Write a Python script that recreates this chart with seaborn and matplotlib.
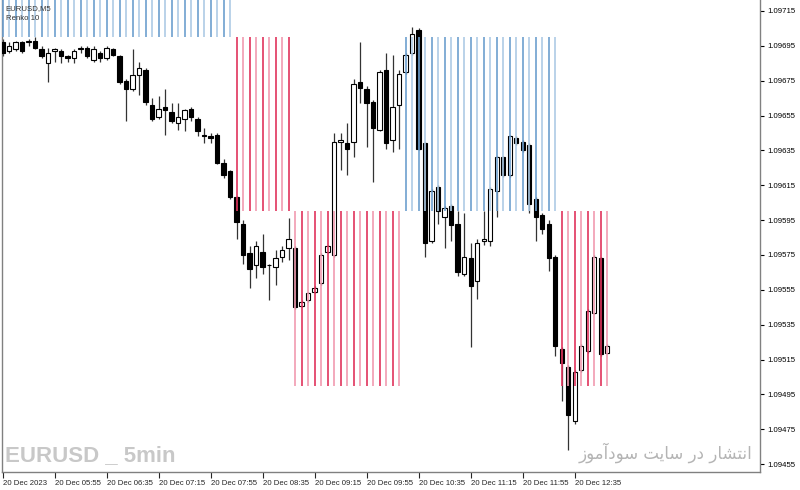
"""EURUSD M5 candles with Renko(10) box columns, MT4 style."""

import numpy as np
import pandas as pd
import matplotlib
matplotlib.use("Agg")
import matplotlib.pyplot as plt
import seaborn as sns

# 5-minute bars, 20 Dec 2023, 05:15 .. 13:00
opens = [
    1.09697, 1.09692, 1.09693, 1.09697, 1.09697, 1.09698, 1.09693, 1.09685, 1.09692, 1.09692,
    1.09689, 1.09688, 1.09693, 1.09694, 1.09687, 1.09691, 1.09688, 1.09693, 1.09689, 1.09675,
    1.09670, 1.09678, 1.09681, 1.09661, 1.09654, 1.09660, 1.09657, 1.09651, 1.09653, 1.09659,
    1.09653, 1.09644, 1.09643, 1.09644, 1.09628, 1.09623, 1.09608, 1.09593, 1.09576, 1.09569,
    1.09577, 1.09569, 1.09568, 1.09574, 1.09579, 1.09579, 1.09546, 1.09549, 1.09554, 1.09559,
    1.09577, 1.09575, 1.09640, 1.09639, 1.09640, 1.09674, 1.09670, 1.09663, 1.09647, 1.09681,
    1.09641, 1.09661, 1.09680, 1.09691, 1.09704, 1.09639, 1.09583, 1.09614, 1.09597, 1.09603,
    1.09593, 1.09564, 1.09573, 1.09560, 1.09583, 1.09583, 1.09612, 1.09631, 1.09621, 1.09642,
    1.09640, 1.09638, 1.09607, 1.09598, 1.09593, 1.09574, 1.09521, 1.09511, 1.09480, 1.09509,
    1.09520, 1.09542, 1.09573, 1.09519,
]
highs = [
    1.09699, 1.09697, 1.09698, 1.09698, 1.09699, 1.09700, 1.09695, 1.09694, 1.09694, 1.09693,
    1.09690, 1.09693, 1.09695, 1.09695, 1.09695, 1.09692, 1.09695, 1.09694, 1.09690, 1.09676,
    1.09693, 1.09686, 1.09682, 1.09665, 1.09666, 1.09670, 1.09662, 1.09662, 1.09659, 1.09660,
    1.09654, 1.09648, 1.09645, 1.09645, 1.09630, 1.09624, 1.09609, 1.09595, 1.09580, 1.09583,
    1.09587, 1.09570, 1.09578, 1.09580, 1.09596, 1.09580, 1.09549, 1.09554, 1.09557, 1.09576,
    1.09581, 1.09645, 1.09645, 1.09651, 1.09676, 1.09697, 1.09672, 1.09664, 1.09681, 1.09691,
    1.09690, 1.09681, 1.09691, 1.09706, 1.09705, 1.09640, 1.09613, 1.09615, 1.09603, 1.09604,
    1.09600, 1.09599, 1.09582, 1.09584, 1.09600, 1.09614, 1.09632, 1.09632, 1.09644, 1.09643,
    1.09641, 1.09639, 1.09608, 1.09599, 1.09595, 1.09575, 1.09522, 1.09512, 1.09509, 1.09524,
    1.09544, 1.09575, 1.09574, 1.09524,
]
lows = [
    1.09689, 1.09691, 1.09692, 1.09691, 1.09695, 1.09693, 1.09688, 1.09674, 1.09686, 1.09685,
    1.09686, 1.09685, 1.09691, 1.09688, 1.09686, 1.09686, 1.09687, 1.09689, 1.09673, 1.09652,
    1.09669, 1.09667, 1.09661, 1.09652, 1.09653, 1.09644, 1.09651, 1.09647, 1.09646, 1.09652,
    1.09643, 1.09639, 1.09639, 1.09627, 1.09619, 1.09607, 1.09584, 1.09570, 1.09556, 1.09562,
    1.09564, 1.09549, 1.09558, 1.09571, 1.09572, 1.09544, 1.09545, 1.09548, 1.09553, 1.09558,
    1.09576, 1.09574, 1.09624, 1.09621, 1.09631, 1.09662, 1.09637, 1.09617, 1.09646, 1.09636,
    1.09634, 1.09636, 1.09679, 1.09690, 1.09635, 1.09574, 1.09582, 1.09593, 1.09579, 1.09583,
    1.09563, 1.09563, 1.09522, 1.09550, 1.09581, 1.09580, 1.09597, 1.09620, 1.09620, 1.09638,
    1.09634, 1.09599, 1.09583, 1.09587, 1.09566, 1.09517, 1.09491, 1.09463, 1.09478, 1.09508,
    1.09519, 1.09541, 1.09517, 1.09518,
]
closes = [
    1.09691, 1.09695, 1.09697, 1.09692, 1.09698, 1.09694, 1.09689, 1.09691, 1.09693, 1.09689,
    1.09688, 1.09692, 1.09694, 1.09689, 1.09693, 1.09688, 1.09694, 1.09690, 1.09674, 1.09670,
    1.09678, 1.09682, 1.09663, 1.09653, 1.09659, 1.09658, 1.09652, 1.09654, 1.09658, 1.09654,
    1.09646, 1.09643, 1.09642, 1.09628, 1.09621, 1.09608, 1.09594, 1.09575, 1.09567, 1.09580,
    1.09568, 1.09569, 1.09573, 1.09578, 1.09584, 1.09545, 1.09548, 1.09553, 1.09556, 1.09575,
    1.09580, 1.09640, 1.09641, 1.09636, 1.09673, 1.09671, 1.09662, 1.09648, 1.09680, 1.09639,
    1.09660, 1.09679, 1.09690, 1.09702, 1.09636, 1.09582, 1.09612, 1.09600, 1.09602, 1.09592,
    1.09565, 1.09574, 1.09557, 1.09582, 1.09584, 1.09613, 1.09631, 1.09621, 1.09643, 1.09639,
    1.09635, 1.09604, 1.09597, 1.09590, 1.09573, 1.09523, 1.09513, 1.09483, 1.09508, 1.09523,
    1.09543, 1.09574, 1.09518, 1.09523,
]

# Renko(10 pips) boxes: bar range covered and price range of the box
box_first = [0, 36, 45, 62, 86]
box_last = [35, 44, 61, 85, 93]
box_low = [1.0970, 1.0960, 1.0950, 1.0960, 1.0950]
box_high = [1.0980, 1.0970, 1.0960, 1.0970, 1.0960]
box_dir = ["up", "down", "down", "up", "down"]

tick_bars = [0, 8, 16, 24, 32, 40, 48, 56, 64, 72, 80, 88]
tick_labels = ["20 Dec 2023", "20 Dec 05:55", "20 Dec 06:35", "20 Dec 07:15",
               "20 Dec 07:55", "20 Dec 08:35", "20 Dec 09:15", "20 Dec 09:55",
               "20 Dec 10:35", "20 Dec 11:15", "20 Dec 11:55", "20 Dec 12:35"]
price_ticks = [1.09455, 1.09475, 1.09495, 1.09515, 1.09535, 1.09555, 1.09575,
               1.09595, 1.09615, 1.09635, 1.09655, 1.09675, 1.09695, 1.09715]

# "انتشار در سایت سودآموز" in shaped (presentation) forms, visual order
PERSIAN = ("\ufeaf\ufeee\ufee3\ufe81\ufea9\ufeee\ufeb3 "
           "\ufe96\ufef3\ufe8e\ufeb3 "
           "\ufead\ufea9 "
           "\ufead\ufe8e\ufeb8\ufe98\ufee7\ufe8d")

sns.set_theme(style="white")
plt.rcParams["font.family"] = ["Liberation Sans", "DejaVu Sans"]

df = pd.DataFrame({"open": opens, "high": highs, "low": lows, "close": closes})
df["bar"] = np.arange(len(df))
bull = df["close"] >= df["open"]

fig = plt.figure(figsize=(8, 4.9), dpi=100)
ax = fig.add_axes([2 / 800, 18 / 490, 758 / 800, 472 / 490])

# wicks and bodies
ax.vlines(df["bar"], df["low"], df["high"], color="#333333", lw=0.9, zorder=2)
ax.bar(df["bar"], (df["close"] - df["open"]).abs(),
       bottom=df[["open", "close"]].min(axis=1), width=0.68,
       color=np.where(bull, "white", "black"), edgecolor="black",
       linewidth=0.8, zorder=3)

# renko columns, one line per bar
shades = {"up": ("#6d9fce", "#aecbe5"), "down": ("#e0335c", "#f19bb0")}
for first, last, lo, hi, d in zip(box_first, box_last, box_low, box_high, box_dir):
    xs = np.arange(first, last + 1)
    cols = [shades[d][k % 2] for k in xs]
    ax.vlines(xs, lo, hi, colors=cols, lw=1.2, zorder=4)

ax.set_xlim(-0.1, 116.5)
ax.set_ylim(1.094505, 1.097213)

ax.yaxis.tick_right()
ax.set_yticks(price_ticks)
ax.set_yticklabels([f"{p:.5f}" for p in price_ticks])
ax.set_xticks(tick_bars)
ax.set_xticklabels(tick_labels, ha="left")
ax.tick_params(axis="y", right=True, left=False, length=3, width=0.8,
               labelsize=5.6, pad=2, colors="black")
ax.tick_params(axis="x", bottom=True, length=4, width=0.8, labelsize=5.6, pad=1.5)
ax.grid(False)
ax.spines["top"].set_visible(False)
for side in ("left", "bottom", "right"):
    ax.spines[side].set_color("#808080")
    ax.spines[side].set_linewidth(1.0)

ax.text(0.005, 0.982, "EURUSD,M5", transform=ax.transAxes, fontsize=5.6,
        color="#333333", va="center", zorder=5)
ax.text(0.005, 0.96, "Renko 10", transform=ax.transAxes, fontsize=5.6,
        color="#333333", va="center", zorder=5)

ax.text(0.004, 0.012, "EURUSD _ 5min", transform=ax.transAxes,
        family=["DejaVu Sans Condensed", "Liberation Sans Narrow", "Liberation Sans"],
        fontweight="bold", fontsize=16, color="#c8c8c8", ha="left", va="bottom",
        zorder=1)
ax.text(0.99, 0.02, PERSIAN, transform=ax.transAxes, family=["DejaVu Sans"],
        fontsize=12, color="#b4b4b4", ha="right", va="bottom", zorder=1)

fig.savefig("out.png", dpi=100)
plt.close(fig)
